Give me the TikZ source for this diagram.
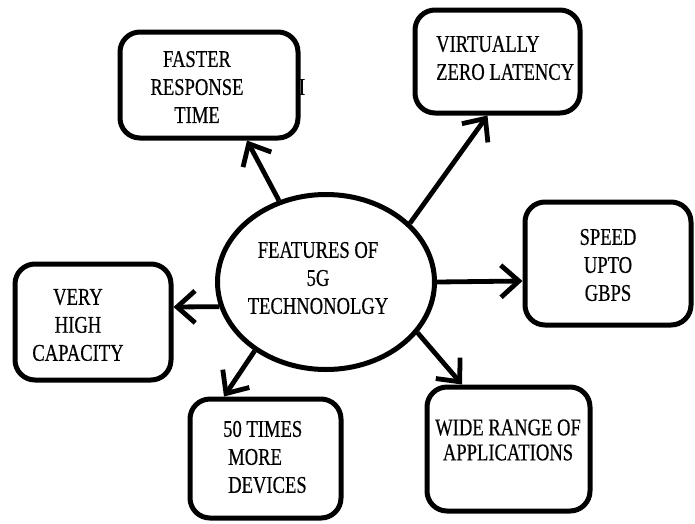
\documentclass[tikz,border=0pt]{standalone}
\usepackage{fontspec}
\setmainfont{Liberation Serif}[FakeStretch=0.775,FakeBold=0.4]
\usetikzlibrary{shapes.geometric,arrows.meta}

\tikzset{
  featbox/.style={draw, line width=5pt, rounded corners=20pt, inner sep=0pt},
  feattxt/.style={font=\fontsize{24}{28}\selectfont, inner sep=0pt},
  arr/.style={line width=4.8pt, -{Straight Barb[length=18pt,width=32pt]}},
}

\begin{document}
\begin{tikzpicture}[x=1pt,y=-1pt]
\useasboundingbox (0,0) rectangle (695,523);
% centre
\node[ellipse, draw, line width=5pt, minimum width=217pt, minimum height=175pt] (feat) at (326,282) {};
\node[feattxt, align=center] (feat-t) at (318,278) {FEATURES OF\\5G\\TECHNONOLGY};
% boxes round it
\node[featbox, minimum width=178pt, minimum height=106pt] (fast) at (209,85) {};
\node[featbox, minimum width=165pt, minimum height=103pt] (virt) at (497.5,61.5) {};
\node[featbox, minimum width=166pt, minimum height=123pt] (speed) at (608,263.5) {};
\node[featbox, minimum width=156pt, minimum height=116pt] (very) at (93,322) {};
\node[featbox, minimum width=151pt, minimum height=119pt] (times) at (265.5,458.5) {};
\node[featbox, minimum width=163pt, minimum height=124pt] (wide) at (508.5,449) {};
\node[feattxt, align=center] (fast-t) at (197,87) {FASTER\\RESPONSE\\TIME};
\node[feattxt, align=left, anchor=west] (virt-t) at (436,58) {VIRTUALLY\\ZERO LATENCY};
\node[feattxt, align=center] (speed-t) at (608,265) {SPEED\\UPTO\\GBPS};
\node[feattxt, align=center] (very-t) at (78,325) {VERY\\HIGH\\CAPACITY};
\node[feattxt, align=left, anchor=west] (times-t) at (223,457) {50 TIMES\\\hspace*{5pt}MORE\\\hspace*{5pt}DEVICES};
\node[feattxt, font=\fontsize{24}{25}\selectfont, align=center] (wide-t) at (508,440) {WIDE RANGE OF\\APPLICATIONS};
\node[feattxt] (cursor) at (302,87) {I};
% arrow ends
\coordinate (fast-tip) at ([xshift=38pt]fast.south);
\coordinate (virt-tip) at ([xshift=-10pt]virt.south);
\coordinate (speed-tip) at ([yshift=-17.5pt]speed.west);
\coordinate (very-tip) at ([yshift=15pt]very.east);
\coordinate (times-tip) at ([xshift=-41.5pt]times.north);
\coordinate (wide-tip) at ([xshift=-46.5pt]wide.north);
\foreach \ang/\tip in {120/fast-tip, 35/virt-tip, 0/speed-tip, -167/very-tip, -136/times-tip, -29/wide-tip}
  \draw[arr] (feat.\ang) -- (\tip);
\end{tikzpicture}
\end{document}
